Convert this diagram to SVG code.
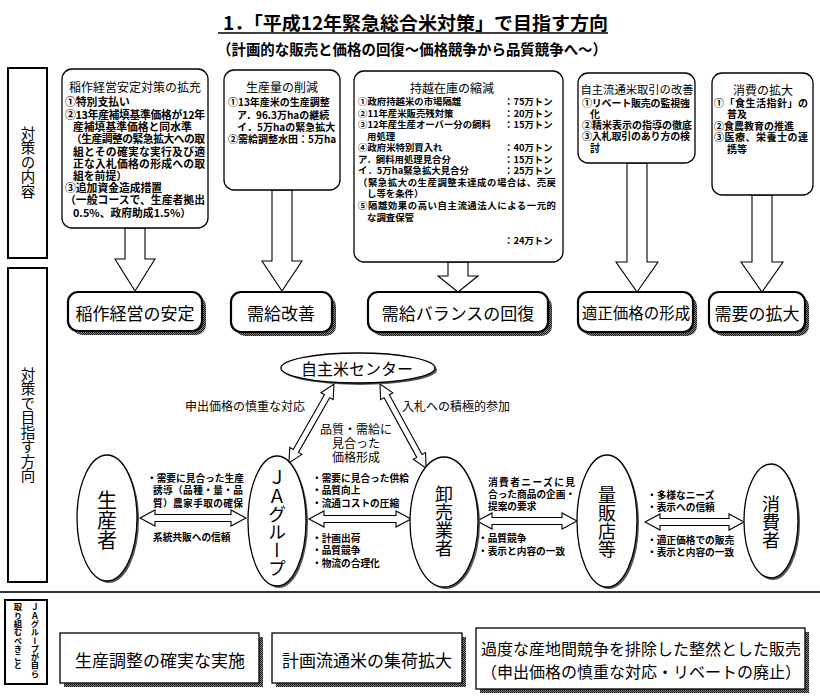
<svg xmlns="http://www.w3.org/2000/svg" width="820" height="700" viewBox="0 0 820 700">
<defs>
<style>
text{font-family:"Noto Sans CJK JP","Noto Sans",sans-serif;fill:#000;dominant-baseline:central}
.b{font-weight:bold}
.ttl{font-size:12px}
.s1{font-size:10.8px;font-weight:bold}
.s2{font-size:10px;font-weight:bold}
.s3{font-size:9.4px;font-weight:bold}
.lab{font-size:9.7px;font-weight:bold}
.mid{font-size:12px}
.box{fill:#fff;stroke:#000;stroke-width:1.3}
.node{fill:#fff;stroke:#000;stroke-width:2.2}
.shd{fill:url(#hatch)}
.ell{fill:#fff;stroke:#000;stroke-width:1.3}
.eshd{fill:#555}
.side{fill:#fff;stroke:#000;stroke-width:2}
.arr{fill:#fff;stroke:#000;stroke-width:1.1;stroke-linejoin:miter}
.v{writing-mode:vertical-rl;text-anchor:middle}
.c{text-anchor:middle}
</style>
<pattern id="hatch" width="2" height="2" patternUnits="userSpaceOnUse">
<rect width="2" height="2" fill="#888"/>
<rect width="1" height="1" fill="#111"/>
<rect x="1" y="1" width="1" height="1" fill="#111"/>
</pattern>
</defs>
<rect width="820" height="700" fill="#fff"/>

<g id="title">
<text x="223" y="21" class="b" font-size="18.6" textLength="385" lengthAdjust="spacingAndGlyphs">1．「平成12年緊急総合米対策」で目指す方向</text>
<line x1="218" y1="33" x2="608" y2="33" stroke="#000" stroke-width="1.5"/>
<text x="217" y="48" class="b" font-size="15" textLength="390" lengthAdjust="spacingAndGlyphs">（計画的な販売と価格の回復～価格競争から品質競争へ～）</text>
</g>

<g id="side-naiyou">
<rect class="side" x="8" y="68" width="39" height="190"/>
<text class="v" x="28" y="162" font-size="14.5">対策の内容</text>
</g>
<g id="side-houkou">
<rect class="side" x="8" y="268" width="39" height="314"/>
<text class="v" x="28" y="425" font-size="14.5">対策で目指す方向</text>
</g>
<g id="side-ja">
<rect class="side" x="5" y="600" width="42" height="84"/>
<text class="v" x="35" y="603" font-size="8.3" style="text-anchor:start" font-weight="bold">ＪＡグループが自ら</text>
<text class="v" x="18" y="603" font-size="8.3" style="text-anchor:start" font-weight="bold">取り組むべきこと</text>
</g>

<g id="connectors">
<polygon class="arr" points="125,228 125,259 115,259 135,291 155,259 145,259 145,228"/>
<polygon class="arr" points="272,190 272,261 262,261 282,291 302,261 292,261 292,190"/>
<polygon class="arr" points="448,262 448,276 438,276 458,292 478,276 468,276 468,262"/>
<polygon class="arr" points="627,163 627,262 616,262 637,292 658,262 647,262 647,163"/>
<polygon class="arr" points="752,195 752,262 741,262 762,292 783,262 772,262 772,195"/>
<polygon class="arr" points="140,518 155,510 155,514.5 231,514.5 231,510 246,518 231,526 231,521.5 155,521.5 155,526"/>
<polygon class="arr" points="309,519 324,511 324,515.5 396,515.5 396,511 411,519 396,527 396,522.5 324,522.5 324,527"/>
<polygon class="arr" points="477,521 492,513 492,517.5 562,517.5 562,513 577,521 562,529 562,524.5 492,524.5 492,529"/>
<polygon class="arr" points="645,522 660,514 660,518.5 729,518.5 729,514 744,522 729,530 729,525.5 660,525.5 660,530"/>
<polygon class="arr" transform="translate(334,384) rotate(119.7)" points="0,0 14,-7 14,-3 77,-3 77,-7 91,0 77,7 77,3 14,3 14,7"/>
<polygon class="arr" transform="translate(380,384) rotate(61.3)" points="0,0 14,-7 14,-3 82,-3 82,-7 96,0 82,7 82,3 14,3 14,7"/>
</g>

<g id="box-inasaku">
<rect class="box" x="62" y="69" width="146" height="159" rx="10"/>
<text class="ttl c" x="135" y="86">稲作経営安定対策の拡充</text>
<text class="s1" x="65" y="101">①特別支払い</text>
<text class="s1" x="65" y="114" textLength="140" lengthAdjust="spacing">②13年産補填基準価格が12年</text>
<text class="s1" x="73" y="126">産補填基準価格と同水準</text>
<text class="s1" x="71" y="138" textLength="134" lengthAdjust="spacing">（生産調整の緊急拡大への取</text>
<text class="s1" x="73" y="151" textLength="132" lengthAdjust="spacing">組とその確実な実行及び適</text>
<text class="s1" x="73" y="163" textLength="132" lengthAdjust="spacing">正な入札価格の形成への取</text>
<text class="s1" x="73" y="175">組を前提）</text>
<text class="s1" x="65" y="187">③追加資金造成措置</text>
<text class="s1" x="65" y="199" textLength="140" lengthAdjust="spacing">（一般コースで、生産者拠出</text>
<text class="s1" x="73" y="212">0.5%、政府助成1.5%）</text>
</g>

<g id="box-seisan">
<rect class="box" x="224" y="70" width="116" height="120" rx="10"/>
<text class="ttl c" x="282" y="86">生産量の削減</text>
<text class="s2" x="228" y="101">①13年産米の生産調整</text>
<text class="s2" x="237" y="114">ア．96.3万haの継続</text>
<text class="s2" x="237" y="126">イ．5万haの緊急拡大</text>
<text class="s2" x="228" y="138">②需給調整水田：5万ha</text>
</g>

<g id="box-mochikoshi">
<rect class="box" x="354" y="71" width="209" height="191" rx="10"/>
<text class="ttl c" x="452" y="87">持越在庫の縮減</text>
<text class="s3" x="358" y="101">①政府持越米の市場隔離</text>
<text class="s3" x="504" y="101">：75万トン</text>
<text class="s3" x="358" y="113">②11年産米販売残対策</text>
<text class="s3" x="504" y="113">：20万トン</text>
<text class="s3" x="358" y="124">③12年産生産オーバー分の飼料</text>
<text class="s3" x="504" y="124">：15万トン</text>
<text class="s3" x="367" y="136">用処理</text>
<text class="s3" x="358" y="147">④政府米特別買入れ</text>
<text class="s3" x="504" y="147">：40万トン</text>
<text class="s3" x="358" y="159">ア．飼料用処理見合分</text>
<text class="s3" x="504" y="159">：15万トン</text>
<text class="s3" x="358" y="170">イ．5万ha緊急拡大見合分</text>
<text class="s3" x="504" y="170">：25万トン</text>
<text class="s3" x="358" y="182" textLength="198" lengthAdjust="spacing">（緊急拡大の生産調整未達成の場合は、売戻</text>
<text class="s3" x="367" y="193">し等を条件）</text>
<text class="s3" x="358" y="205" textLength="198" lengthAdjust="spacing">⑤隔離効果の高い自主流通法人による一元的</text>
<text class="s3" x="367" y="217">な調査保管</text>
<text class="s3" x="504" y="240">：24万トン</text>
</g>

<g id="box-jishu">
<rect class="box" x="578" y="73" width="117" height="90" rx="10"/>
<text class="c" x="637" y="89" font-size="11.3">自主流通米取引の改善</text>
<text class="s2" x="582" y="102" textLength="108" lengthAdjust="spacing">①リベート販売の監視強</text>
<text class="s2" x="590" y="113">化</text>
<text class="s2" x="582" y="124">②精米表示の指導の徹底</text>
<text class="s2" x="582" y="135" textLength="108" lengthAdjust="spacing">③入札取引のあり方の検</text>
<text class="s2" x="590" y="147">討</text>
</g>

<g id="box-shouhi">
<rect class="box" x="712" y="73" width="101" height="122" rx="10"/>
<text class="ttl c" x="763" y="89">消費の拡大</text>
<text class="s2" x="714" y="102" textLength="94" lengthAdjust="spacing">①「食生活指針」の</text>
<text class="s2" x="727" y="113">普及</text>
<text class="s2" x="714" y="125">②食農教育の推進</text>
<text class="s2" x="714" y="136" textLength="94" lengthAdjust="spacing">③医療、栄養士の連</text>
<text class="s2" x="727" y="148">携等</text>
</g>

<g id="node-antei">
<rect class="shd" x="72" y="296" width="134" height="39" rx="10"/>
<rect class="node" x="68" y="292" width="134" height="39" rx="10"/>
<text class="c" x="135" y="312" font-size="17">稲作経営の安定</text>
</g>
<g id="node-jukyu">
<rect class="shd" x="235" y="296" width="101" height="40" rx="10"/>
<rect class="node" x="231" y="292" width="101" height="40" rx="10"/>
<text class="c" x="281" y="312" font-size="17">需給改善</text>
</g>
<g id="node-balance">
<rect class="shd" x="372" y="296" width="180" height="40" rx="10"/>
<rect class="node" x="368" y="292" width="180" height="40" rx="10"/>
<text class="c" x="458" y="312" font-size="17">需給バランスの回復</text>
</g>
<g id="node-tekisei">
<rect class="shd" x="582" y="296" width="115" height="40" rx="10"/>
<rect class="node" x="578" y="292" width="115" height="40" rx="10"/>
<text class="c" x="636" y="312" font-size="15.5">適正価格の形成</text>
</g>
<g id="node-juyou">
<rect class="shd" x="713" y="296" width="96" height="40" rx="10"/>
<rect class="node" x="709" y="292" width="96" height="40" rx="10"/>
<text class="c" x="757" y="312" font-size="17">需要の拡大</text>
</g>

<g id="node-center">
<ellipse class="eshd" cx="360" cy="370" rx="77" ry="15"/>
<ellipse class="ell" cx="358" cy="368" rx="77" ry="15"/>
<text class="c" x="357" y="368" font-size="16">自主米センター</text>
</g>
<g id="node-seisansha">
<ellipse class="eshd" cx="109" cy="520" rx="30" ry="63"/>
<ellipse class="ell" cx="107" cy="518" rx="30" ry="63"/>
<text class="v" x="107" y="520" font-size="20">生産者</text>
</g>
<g id="node-ja">
<ellipse class="eshd" cx="279" cy="523" rx="29" ry="65"/>
<ellipse class="ell" cx="277" cy="521" rx="29" ry="65"/>
<text class="v" x="277" y="523" font-size="18">ＪＡグループ</text>
</g>
<g id="node-oroshi">
<ellipse class="eshd" cx="446" cy="524" rx="34" ry="65"/>
<ellipse class="ell" cx="444" cy="522" rx="34" ry="65"/>
<text class="v" x="444" y="521" font-size="18">卸売業者</text>
</g>
<g id="node-ryohan">
<ellipse class="eshd" cx="609" cy="523" rx="30" ry="66"/>
<ellipse class="ell" cx="607" cy="521" rx="30" ry="66"/>
<text class="v" x="607" y="522" font-size="18">量販店等</text>
</g>
<g id="node-shohisha">
<ellipse class="eshd" cx="773" cy="523" rx="27" ry="57"/>
<ellipse class="ell" cx="771" cy="521" rx="27" ry="57"/>
<text class="v" x="771" y="522" font-size="18">消費者</text>
</g>

<g id="labels">
<text class="mid" x="185" y="405">申出価格の慎重な対応</text>
<text class="mid" x="402" y="405">入札への積極的参加</text>
<text class="mid c" x="356" y="428">品質・需給に</text>
<text class="mid c" x="356" y="442">見合った</text>
<text class="mid c" x="356" y="456">価格形成</text>
<text class="lab" x="147" y="478">・需要に見合った生産</text>
<text class="lab" x="153" y="490" textLength="90" lengthAdjust="spacing">誘導（品種・量・品</text>
<text class="lab" x="153" y="503" textLength="90" lengthAdjust="spacing">質）農家手取の確保</text>
<text class="lab" x="153" y="537">系統共販への信頼</text>
<text class="lab" x="312" y="478">・需要に見合った供給</text>
<text class="lab" x="312" y="490">・品質向上</text>
<text class="lab" x="312" y="503">・流通コストの圧縮</text>
<text class="lab" x="312" y="538">・計画出荷</text>
<text class="lab" x="312" y="550">・品質競争</text>
<text class="lab" x="312" y="563">・物流の合理化</text>
<text class="lab" x="488" y="482" textLength="87" lengthAdjust="spacing">消費者ニーズに見</text>
<text class="lab" x="488" y="494">合った商品の企画・</text>
<text class="lab" x="488" y="506">提案の要求</text>
<text class="lab" x="478" y="538">・品質競争</text>
<text class="lab" x="478" y="551">・表示と内容の一致</text>
<text class="lab" x="647" y="495">・多様なニーズ</text>
<text class="lab" x="647" y="507">・表示への信頼</text>
<text class="lab" x="647" y="540">・適正価格での販売</text>
<text class="lab" x="647" y="552">・表示と内容の一致</text>
</g>

<line x1="0" y1="592" x2="820" y2="592" stroke="#333" stroke-width="2"/>

<g id="bottom-chousei">
<rect class="shd" x="64" y="637" width="199" height="50"/>
<rect class="box" x="60" y="633" width="199" height="50"/>
<text class="c" x="160" y="659" font-size="17">生産調整の確実な実施</text>
</g>
<g id="bottom-shuka">
<rect class="shd" x="276" y="637" width="190" height="50"/>
<rect class="box" x="272" y="633" width="190" height="50"/>
<text class="c" x="367" y="659" font-size="17">計画流通米の集荷拡大</text>
</g>
<g id="bottom-hanbai">
<rect class="shd" x="480" y="632" width="329" height="61"/>
<rect class="box" x="476" y="628" width="329" height="61"/>
<text class="c" x="641" y="648" font-size="16">過度な産地間競争を排除した整然とした販売</text>
<text class="c" x="641" y="671" font-size="16">（申出価格の慎重な対応・リベートの廃止）</text>
</g>
</svg>
